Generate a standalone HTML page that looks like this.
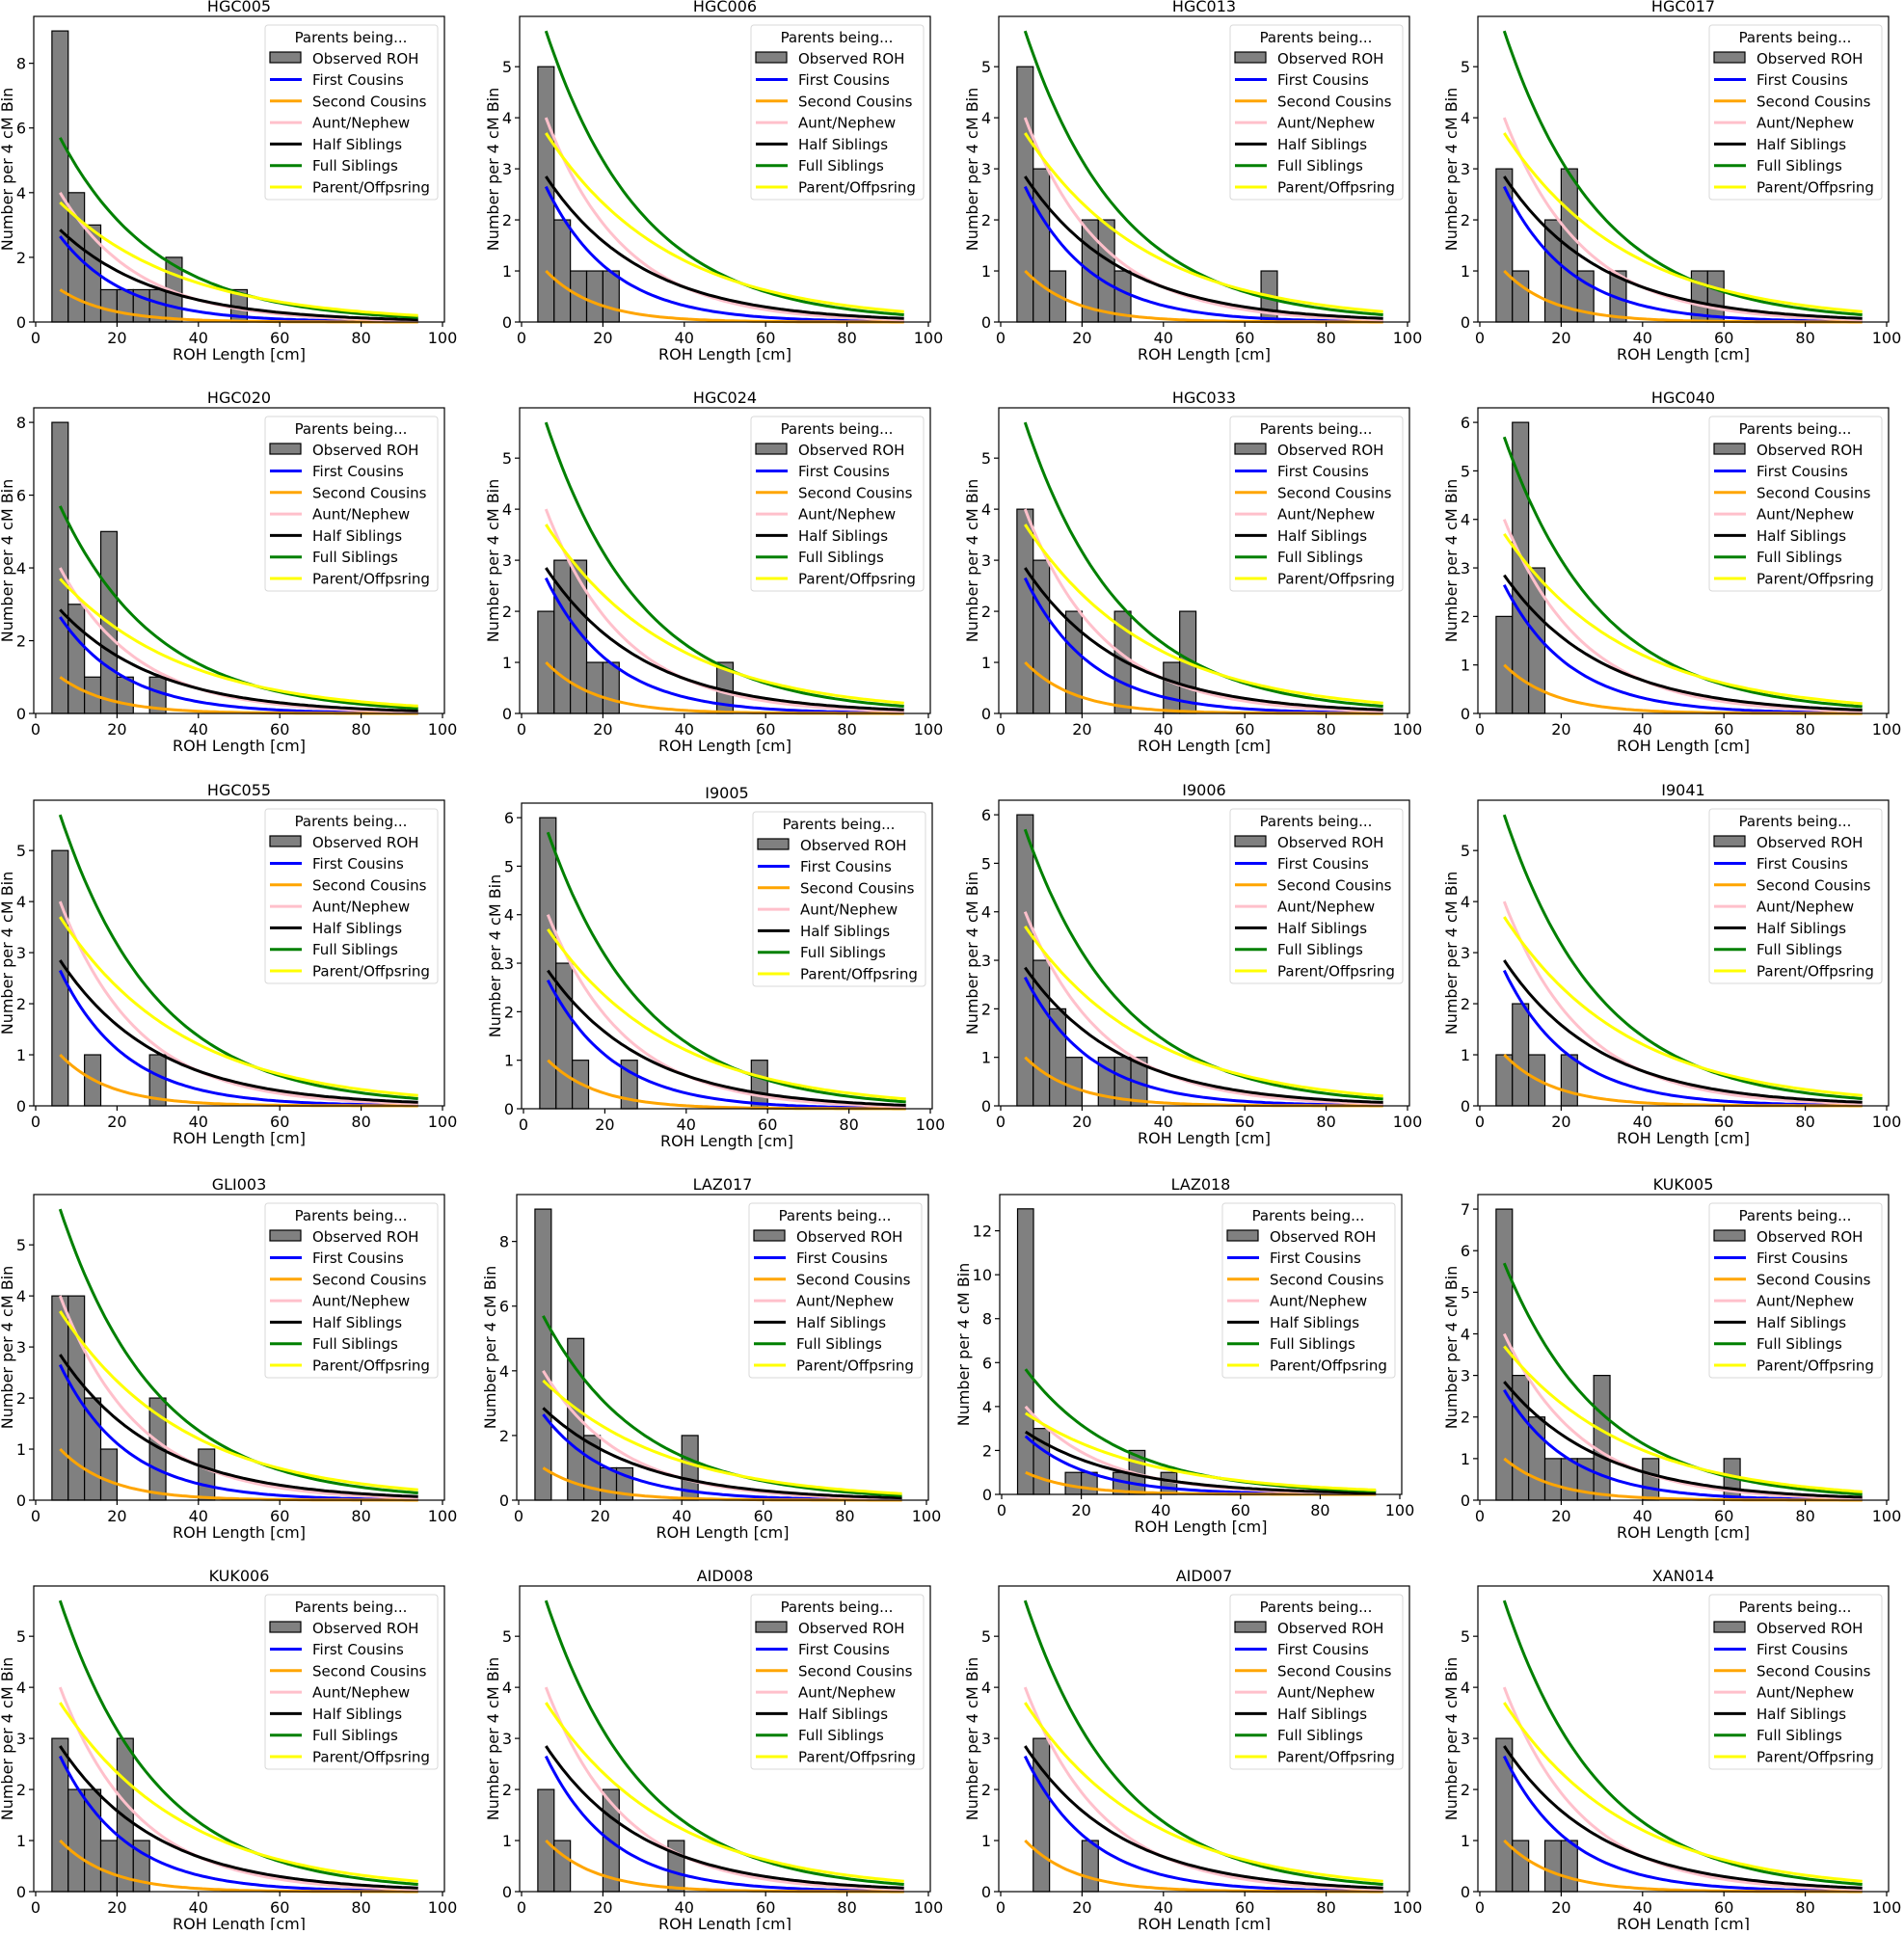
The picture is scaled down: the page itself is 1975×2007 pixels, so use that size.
<!DOCTYPE html>
<html><head><meta charset="utf-8"><style>
html,body{margin:0;padding:0;background:#fff;}
svg text{font-family:"DejaVu Sans","Liberation Sans",sans-serif;}
</style></head><body>
<svg id="s" xmlns="http://www.w3.org/2000/svg" width="1975" height="2002" viewBox="0 0 1975 2002"></svg>
<script>
const P=[
["HGC005",[[4,9],[8,4],[12,3],[16,1],[20,1],[24,1],[28,1],[32,2],[48,1]]],
["HGC006",[[4,5],[8,2],[12,1],[16,1],[20,1]]],
["HGC013",[[4,5],[8,3],[12,1],[20,2],[24,2],[28,1],[64,1]]],
["HGC017",[[4,3],[8,1],[16,2],[20,3],[24,1],[32,1],[52,1],[56,1]]],
["HGC020",[[4,8],[8,3],[12,1],[16,5],[20,1],[28,1]]],
["HGC024",[[4,2],[8,3],[12,3],[16,1],[20,1],[48,1]]],
["HGC033",[[4,4],[8,3],[16,2],[28,2],[40,1],[44,2]]],
["HGC040",[[4,2],[8,6],[12,3]]],
["HGC055",[[4,5],[12,1],[28,1]]],
["I9005",[[4,6],[8,3],[12,1],[24,1],[56,1]]],
["I9006",[[4,6],[8,3],[12,2],[16,1],[24,1],[28,1],[32,1]]],
["I9041",[[4,1],[8,2],[12,1],[20,1]]],
["GLI003",[[4,4],[8,4],[12,2],[16,1],[28,2],[40,1]]],
["LAZ017",[[4,9],[12,5],[16,2],[20,1],[24,1],[40,2]]],
["LAZ018",[[4,13],[8,3],[16,1],[20,1],[28,1],[32,2],[40,1]]],
["KUK005",[[4,7],[8,3],[12,2],[16,1],[20,1],[24,1],[28,3],[40,1],[60,1]]],
["KUK006",[[4,3],[8,2],[12,2],[16,1],[20,3],[24,1]]],
["AID008",[[4,2],[8,1],[20,2],[36,1]]],
["AID007",[[8,3],[20,1]]],
["XAN014",[[4,3],[8,1],[16,1],[20,1]]]
];
const lefts=[35,539,1036,1533], tops=[17,423,830,1239,1645], bots=[334,740,1147,1556,1962];
const curves=[["#0000ff",2.65,0.062],["#ffa500",1.0,0.082],["#ffc0cb",4.0,0.052],["#000000",2.85,0.042],["#008000",5.7,0.042],["#ffff00",3.7,0.033]];
const labs=["First Cousins","Second Cousins","Aunt/Nephew","Half Siblings","Full Siblings","Parent/Offpsring"];
let h="";
P.forEach((p,i)=>{
 const c=i%4,r=Math.floor(i/4);
 let L=lefts[c],T=tops[r],B=bots[r],W=426;
 if(p[0]=="LAZ018"){L=1037;W=417;B=1550;}
 if(p[0]=="I9005"){L=541;T=833;B=1150;}
 if(p[0]=="LAZ017"){L=536;W=427;}
 const H=B-T;
 let mb=Math.max(...p[1].map(b=>b[1]));
 const ymax=1.05*Math.max(mb,5.7);
 const X=x=>L+2+x*(W-4)/100, Y=y=>B-y*H/ymax;
 p[1].forEach(b=>{h+=`<rect x="${X(b[0])}" y="${Y(b[1])}" width="${X(b[0]+4)-X(b[0])}" height="${B-Y(b[1])}" fill="#808080" stroke="#000" stroke-width="1.2"/>`;});
 curves.forEach(cv=>{let d="";for(let x=6;x<=94.01;x+=1){d+=(x==6?"M":"L")+X(x).toFixed(1)+","+Y(cv[1]*Math.exp(-(x-6)*cv[2])).toFixed(1);}h+=`<path d="${d}" fill="none" stroke="${cv[0]}" stroke-width="3"/>`;});
 h+=`<rect x="${L}" y="${T}" width="${W}" height="${H}" fill="none" stroke="#000" stroke-width="1.2"/>`;
 for(let t=0;t<=100;t+=20){const x=X(t);h+=`<line x1="${x}" y1="${B}" x2="${x}" y2="${B+5}" stroke="#000" stroke-width="1.2"/><text x="${x}" y="${B+22}" font-size="16" text-anchor="middle">${t}</text>`;}
 const st=ymax>7.5?2:1;
 for(let t=0;t<=ymax;t+=st){const y=Y(t);h+=`<line x1="${L}" y1="${y}" x2="${L-5}" y2="${y}" stroke="#000" stroke-width="1.2"/><text x="${L-8}" y="${y+6}" font-size="16" text-anchor="end">${t}</text>`;}
 h+=`<text x="${L+W/2}" y="${B+39}" font-size="16" text-anchor="middle">ROH Length [cm]</text>`;
 h+=`<text x="${L+W/2}" y="${T-5}" font-size="16" text-anchor="middle">${p[0]}</text>`;
 const yl=L-(ymax>10?32:22);
 h+=`<text transform="translate(${yl},${T+H/2}) rotate(-90)" font-size="16" text-anchor="middle">Number per 4 cM Bin</text>`;
 const R=L+W, lx=R-186, ly=T+9;
 h+=`<rect x="${lx}" y="${ly}" width="179" height="181" rx="3" fill="#fff" fill-opacity="0.85" stroke="#d8d8d8" stroke-width="1"/>`;
 h+=`<text x="${lx+89}" y="${ly+18}" font-size="15" text-anchor="middle">Parents being...</text>`;
 h+=`<rect x="${lx+5}" y="${ly+28}" width="32" height="11" fill="#808080" stroke="#000" stroke-width="1.2"/><text x="${lx+49}" y="${ly+40}" font-size="15">Observed ROH</text>`;
 labs.forEach((s,k)=>{const yy=ly+56.5+k*22.3;h+=`<line x1="${lx+5}" y1="${yy}" x2="${lx+38}" y2="${yy}" stroke="${curves[k][0]}" stroke-width="3"/><text x="${lx+49}" y="${yy+5.5}" font-size="15">${s}</text>`;});
});
document.getElementById("s").innerHTML=h;
</script>
</body></html>
